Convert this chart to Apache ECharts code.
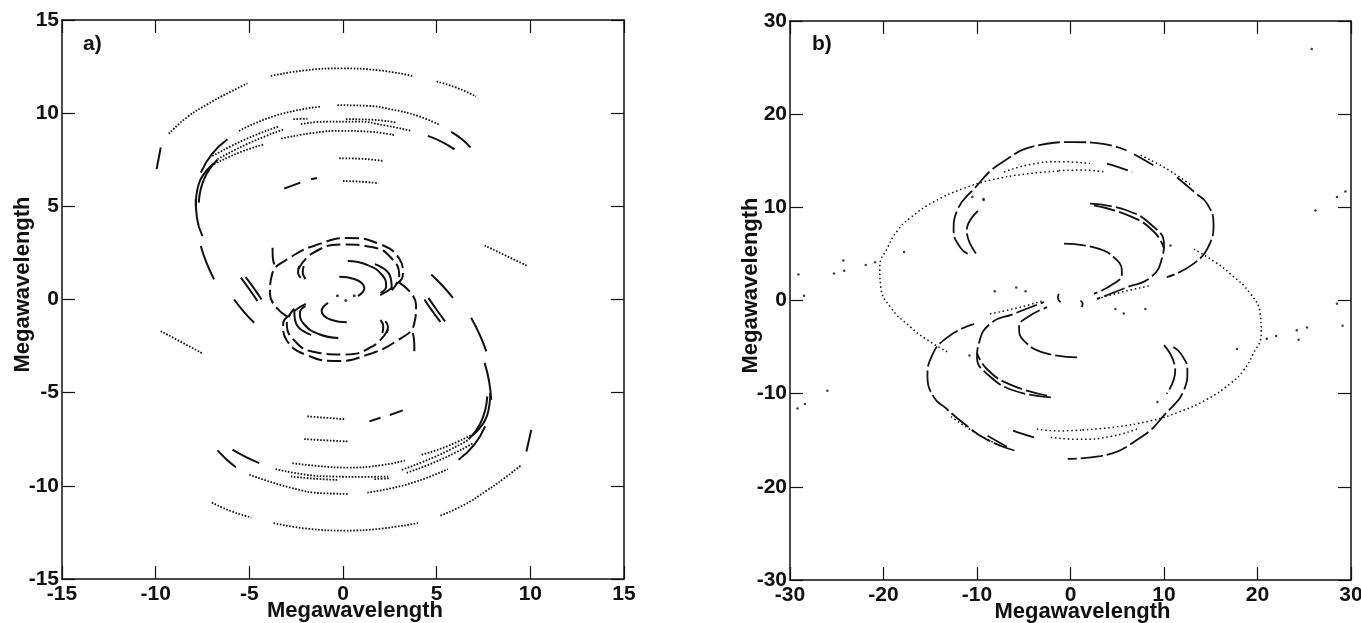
<!DOCTYPE html>
<html>
<head>
<meta charset="utf-8">
<script src="https://cdn.jsdelivr.net/npm/echarts@6/dist/echarts.min.js"></script>
<style>
html,body{margin:0;padding:0;background:#fff;}
#chart{width:1361px;height:623px;}
</style>
</head>
<body>
<div id="chart"></div>
<script>
// panel a) tracks, megawavelength (u, v)
var aDotted = [
    [[-9.3,8.9],[-8.3,9.8],[-7.2,10.5],[-6.1,11.1],[-5.1,11.6]],
    [[-3.85,12.0],[-2,12.3],[-0.1,12.4],[1.9,12.3],[3.7,12.0]],
    [[5.0,11.7],[6.1,11.35],[7.1,10.9]],
    [[-7.0,-10.9],[-6.0,-11.35],[-4.9,-11.7]],
    [[-3.7,-12.0],[-1.9,-12.3],[0.1,-12.4],[2.0,-12.3],[4.0,-12.0]],
    [[5.2,-11.6],[6.5,-11.0],[7.6,-10.3],[8.6,-9.6],[9.5,-8.9]],
    [[-5.55,9.05],[-3.5,9.9],[-1.2,10.35]],
    [[-0.3,10.43],[1.2,10.4],[2.6,10.2],[4.0,9.85],[5.1,9.4]],
    [[-5.0,-9.4],[-2.8,-10.1],[-1.0,-10.4],[0.3,-10.43]],
    [[1.3,-10.36],[3.5,-9.9],[5.6,-9.1]],
    [[-3.3,8.64],[-1.5,8.95],[-0.1,9.05],[1.5,9.0],[2.74,8.82]],
    [[-2.7,-8.78],[-1.2,-8.95],[0.3,-9.02],[2.0,-8.9],[3.3,-8.64]],
    [[-2.25,9.41],[-0.8,9.55],[0.7,9.55],[2.2,9.35],[3.64,9.05]],
    [[0.16,9.68],[1.5,9.65],[2.83,9.5]],
    [[-2.65,9.68],[-1.9,9.7]],
    [[-3.6,-9.1],[-2.0,-9.4],[-0.5,-9.5],[1.0,-9.52],[2.4,-9.5]],
    [[-2.78,-9.5],[-1.5,-9.62],[-0.28,-9.68]],
    [[1.68,-9.64],[2.48,-9.6]],
    [[-6.88,7.26],[-5.5,7.9],[-4.2,8.33]],
    [[-6.7,7.53],[-5.0,8.4],[-3.14,9.14]],
    [[-6.97,7.7],[-5.2,8.6],[-3.4,9.3]],
    [[4.2,-8.33],[5.5,-7.9],[6.88,-7.26]],
    [[3.14,-9.14],[5.0,-8.4],[6.7,-7.53]],
    [[3.4,-9.3],[5.2,-8.6],[6.97,-7.7]],
    [[-0.2,7.58],[1.0,7.55],[2.12,7.44]],
    [[0.0,6.36],[1.0,6.32],[1.9,6.24]],
    [[-1.9,-6.27],[-0.9,-6.35],[0.07,-6.42]],
    [[-2.07,-7.49],[-0.9,-7.56],[0.25,-7.62]],
    [[-9.73,-1.7],[-8.6,-2.3],[-7.5,-2.9]],
    [[7.56,2.9],[8.7,2.35],[9.88,1.79]]
];
var aSolid = [
    [[-9.95,7.0],[-9.73,8.16]],
    [[10.05,-7.0],[9.79,-8.16]],
    [[-7.86,5.0],[-7.7,6.2],[-6.9,7.3]],
    [[-7.7,5.2],[-7.4,6.5],[-6.7,7.5]],
    [[-7.59,6.81],[-7.0,7.8],[-6.17,8.6]],
    [[-7.86,5.38],[-7.8,4.4],[-7.5,3.4]],
    [[-7.59,2.87],[-7.3,2.0],[-6.88,1.08]],
    [[7.86,-5.0],[7.7,-6.2],[6.9,-7.3]],
    [[7.7,-5.2],[7.4,-6.5],[6.7,-7.5]],
    [[7.59,-6.81],[7.0,-7.8],[6.17,-8.6]],
    [[7.91,-5.38],[7.8,-4.4],[7.56,-3.4]],
    [[7.65,-2.78],[7.3,-1.9],[6.84,-0.98]],
    [[5.78,9.0],[6.35,8.6],[6.81,8.16]],
    [[4.53,8.78],[5.3,8.45],[5.95,8.06]],
    [[-6.7,-8.1],[-6.2,-8.6],[-5.72,-9.0]],
    [[-5.9,-8.06],[-5.2,-8.45],[-4.47,-8.78]],
    [[-3.14,5.95],[-2.28,6.27]],
    [[-1.71,6.45],[-1.39,6.52]],
    [[1.41,-6.54],[2.0,-6.35]],
    [[2.5,-6.2],[3.19,-5.95]],
    [[-5.81,0],[-5.3,-0.65],[-4.74,-1.25]],
    [[5.87,0.09],[5.3,0.75],[4.71,1.34]],
    [[-5.45,1.17],[-5.0,0.55],[-4.56,-0.09]],
    [[-5.2,1.2],[-4.75,0.6],[-4.35,0.0]],
    [[5.45,-1.17],[5.0,-0.55],[4.56,0.09]],
    [[5.2,-1.2],[4.75,-0.6],[4.35,0.0]],
    [[-3.76,2.78],[-3.75,2.3],[-3.67,1.88]],
    [[3.73,-1.79],[3.8,-2.3],[3.81,-2.78]],
    [[0.25,2.06],[1.3,1.85],[2.1,1.3],[2.3,0.7],[2.0,0.35]],
    [[-0.25,-2.06],[-1.3,-1.85],[-2.1,-1.3],[-2.3,-0.7],[-2.0,-0.35]],
    [[1.7,1.9],[2.5,1.3],[2.6,0.6]],
    [[-1.7,-1.9],[-2.5,-1.3],[-2.6,-0.6]],
    [[-0.2,1.22],[0.6,1.1],[1.14,0.6],[0.8,0.18]],
    [[0.2,-1.22],[-0.6,-1.1],[-1.14,-0.6],[-0.8,-0.18]],
    [[-2.34,1.79],[-2.4,1.45],[-2.25,1.17]],
    [[-2.1,1.8],[-2.15,1.45],[-2.0,1.1]],
    [[2.34,-1.79],[2.4,-1.45],[2.25,-1.17]],
    [[2.1,-1.8],[2.15,-1.45],[2.0,-1.1]]
];
var aLoops = [
    [[-3.0,-0.9],[-3.9,0.3],[-3.8,1.3],[-2.9,2.2],[-1.2,3.0],[0.3,3.3],[1.9,3.0],[3.0,2.2],[3.2,1.4],[2.7,0.7],[1.9,0.2]],
    [[3.0,0.9],[3.9,-0.3],[3.8,-1.3],[2.9,-2.2],[1.2,-3.0],[-0.3,-3.3],[-1.9,-3.0],[-3.0,-2.2],[-3.2,-1.4],[-2.7,-0.7],[-1.9,-0.2]],
    [[-2.4,1.6],[-1.6,2.5],[0,2.95],[1.6,2.8],[2.6,2.2],[3.0,1.3],[2.6,0.5]],
    [[2.4,-1.6],[1.6,-2.5],[0,-2.95],[-1.6,-2.8],[-2.6,-2.2],[-3.0,-1.3],[-2.6,-0.5]]
];
var aSpots = [[-0.3,0.2],[0.15,-0.05],[0.6,0.2]];

// panel b) tracks
var bDotted = [
    [[-13.2,-5.5],[-15.5,-4.1],[-17.1,-2.86],[-19.25,-0.72],[-20.3,1.5],[-20.4,3.5],[-19.5,5.8],[-18.5,7.5],[-17.1,8.9],[-14.6,10.6],[-11.5,12],[-8.6,12.9],[-4.6,13.6],[-1.1,13.9]],
    [[13.2,5.5],[15.5,4.1],[17.1,2.86],[19.25,0.72],[20.3,-1.5],[20.4,-3.5],[19.5,-5.8],[18.5,-7.5],[17.1,-8.9],[14.6,-10.6],[11.5,-12],[8.6,-12.9],[4.6,-13.6],[1.1,-13.9]],
    [[-7.1,13.8],[-4.3,14.6],[-1,14.9],[2.1,14.7]],
    [[7.1,-13.8],[4.3,-14.6],[1,-14.9],[-2.1,-14.7]],
    [[-1.25,13.95],[1.2,14.0],[3.7,13.8]],
    [[-3.6,-13.8],[-1.2,-14.0],[1.25,-13.9]],
    [[2.85,0.18],[5.5,0.9],[8.6,1.6]],
    [[-8.6,-1.43],[-5.7,-0.8],[-2.85,0]],
    [[7.5,15.6],[10.5,14.0],[13.0,12.3]],
    [[-7.5,-15.6],[-10.5,-14.0],[-13.0,-12.3]]
];
var bSolid = [
    [[-11.0,5.0],[-11.8,5.7],[-12.5,7.5],[-12.1,9.7],[-10.3,12.0],[-7.5,14.7],[-3.2,16.7],[0.3,17.0],[3.5,16.8],[6.0,16.1]],
    [[11.4,13.2],[13.4,11.5],[14.6,10.4],[15.3,8.2],[14.9,6.1],[13.1,3.9],[10.3,2.5]],
    [[11.0,-5.0],[11.8,-5.7],[12.5,-7.5],[12.1,-9.7],[10.3,-12.0],[7.5,-14.7],[3.2,-16.7],[-0.3,-17.0]],
    [[-6.0,-16.1],[-9,-14.9],[-11.4,-13.2],[-13.4,-11.5],[-14.6,-10.4],[-15.3,-8.2],[-14.9,-6.1],[-13.1,-3.9],[-10.3,-2.5]],
    [[-9.9,9.6],[-11.1,7.5],[-10.0,4.9]],
    [[10.0,-4.8],[11.2,-7.5],[10.3,-10.0]],
    [[2.1,10.4],[6.06,9.66],[8.9,7.9],[10.0,6.1],[9.8,4.6],[8.6,2.5],[6.06,1.43],[2.85,0.18]],
    [[-2.1,-10.4],[-6.06,-9.66],[-8.9,-7.9],[-10.0,-6.1],[-9.8,-4.6],[-8.6,-2.5],[-6.06,-1.43],[-2.85,-0.18]],
    [[2.5,10.2],[6.5,9.0],[9.0,7.3],[10.0,5.6]],
    [[-2.5,-10.2],[-6.5,-9.0],[-9.0,-7.3],[-10.0,-5.6]],
    [[-0.7,6.1],[2.5,5.7],[5.0,4.3],[5.5,2.86],[4.6,1.79],[2.5,0.72]],
    [[0.7,-6.1],[-2.5,-5.7],[-5.0,-4.3],[-5.5,-2.86],[-4.6,-1.79],[-2.5,-0.72]],
    [[-1.25,0.72],[-1.35,0.3],[-1.07,-0.18]],
    [[1.07,0],[1.3,-0.35],[1.2,-0.72]],
    [[3.9,14.7],[5.2,14.3],[6.6,13.8]],
    [[-3.9,-14.7],[-5.2,-14.3],[-6.6,-13.8]],
    [[6.8,15.7],[8.9,14.5]],
    [[-6.8,-15.7],[-8.9,-14.5]]
];
var bSpots = [
    [25.8,27.0],[26.2,9.66],[28.5,11.1],[29.4,11.7],[28.5,-0.35],[29.1,-2.7],[25.3,-2.9],[24.2,-3.2],
    [24.4,-4.2],[22.0,-3.8],[21.0,-4.1],[17.8,-5.2],[9.3,-10.9],[4.8,-0.9],[5.7,-1.4],[8.0,-0.9],
    [-29.1,2.8],[-28.5,0.5],[-25.3,2.9],[-24.3,4.3],[-24.2,3.2],[-21.9,3.8],[-20.9,4.1],[-17.8,5.2],
    [-10.5,11.1],[-9.3,10.8],[-8.1,1.0],[-5.8,1.4],[-4.8,1.0],[-26.0,-9.7],[-29.2,-11.6],[-28.4,-11.1],
    [-10.8,-5.9],[10.7,5.9],[-9.3,10.9]
];

var ink = '#111';
var fontFam = '"Liberation Sans", Arial, Helvetica, sans-serif';

function arcSeries(arcs, xi, yi, width, dash) {
    return arcs.map(function (pts) {
        return {
            type: 'line',
            xAxisIndex: xi,
            yAxisIndex: yi,
            data: pts,
            smooth: 0.5,
            showSymbol: false,
            silent: true,
            lineStyle: {color: ink, width: width, type: dash, cap: 'butt'}
        };
    });
}

function xAx(grid, lim, step, top) {
    return {
        type: 'value', gridIndex: grid, min: -lim, max: lim, interval: step,
        position: top ? 'top' : 'bottom',
        name: top ? '' : 'Megawavelength',
        nameLocation: 'middle', nameGap: 21, nameMoveOverlap: false,
        nameTextStyle: {fontFamily: fontFam, fontWeight: 'bold', fontSize: 22, color: ink, padding: [0, 0, 0, 24]},
        axisLine: {show: true, onZero: false, lineStyle: {color: ink, width: 1.5}},
        axisTick: {show: true, inside: true, length: 13, lineStyle: {color: ink, width: 1.2}},
        axisLabel: {show: !top, margin: 5, fontFamily: fontFam, fontWeight: 'bold', fontSize: 21, color: ink},
        splitLine: {show: false}
    };
}
function yAx(grid, lim, step, right) {
    return {
        type: 'value', gridIndex: grid, min: -lim, max: lim, interval: step,
        position: right ? 'right' : 'left',
        name: right ? '' : 'Megawavelength',
        nameLocation: 'middle', nameGap: 28, nameMoveOverlap: false,
        nameTextStyle: {fontFamily: fontFam, fontWeight: 'bold', fontSize: 22, color: ink, padding: [0, 0, 0, 30]},
        axisLine: {show: true, onZero: false, lineStyle: {color: ink, width: 1.5}},
        axisTick: {show: true, inside: true, length: 13, lineStyle: {color: ink, width: 1.2}},
        axisLabel: {show: !right, margin: 3, fontFamily: fontFam, fontWeight: 'bold', fontSize: 21, color: ink},
        splitLine: {show: false}
    };
}

var series = []
    .concat(arcSeries(aDotted, 0, 0, 1.8, [1.6, 1.6]))
    .concat(arcSeries(aSolid, 0, 0, 2, 'solid'))
    .concat(arcSeries(aLoops, 0, 0, 2, [14, 5]))
    .concat(arcSeries(bDotted, 2, 2, 1.5, [1.5, 2.8]))
    .concat(arcSeries(bSolid, 2, 2, 1.8, [22, 4]));
series.push({type: 'scatter', xAxisIndex: 0, yAxisIndex: 0, data: aSpots, symbolSize: 3, itemStyle: {color: ink}, silent: true});
series.push({type: 'scatter', xAxisIndex: 2, yAxisIndex: 2, data: bSpots, symbolSize: 2.5, itemStyle: {color: ink}, silent: true});

var chart = echarts.init(document.getElementById('chart'));
chart.setOption({
    backgroundColor: '#fff',
    animation: false,
    grid: [
        {left: 62, top: 20, width: 562, height: 559, outerBoundsMode: 'none', containLabel: false},
        {left: 790, top: 21, width: 561, height: 559, outerBoundsMode: 'none', containLabel: false}
    ],
    xAxis: [xAx(0, 15, 5, false), xAx(0, 15, 5, true), xAx(1, 30, 10, false), xAx(1, 30, 10, true)],
    yAxis: [yAx(0, 15, 5, false), yAx(0, 15, 5, true), yAx(1, 30, 10, false), yAx(1, 30, 10, true)],
    graphic: [
        {type: 'text', left: 83, top: 34, style: {text: 'a)', font: 'bold 21px ' + fontFam, fill: ink}},
        {type: 'text', left: 812, top: 34, style: {text: 'b)', font: 'bold 21px ' + fontFam, fill: ink}}
    ],
    series: series
});
</script>
</body>
</html>
